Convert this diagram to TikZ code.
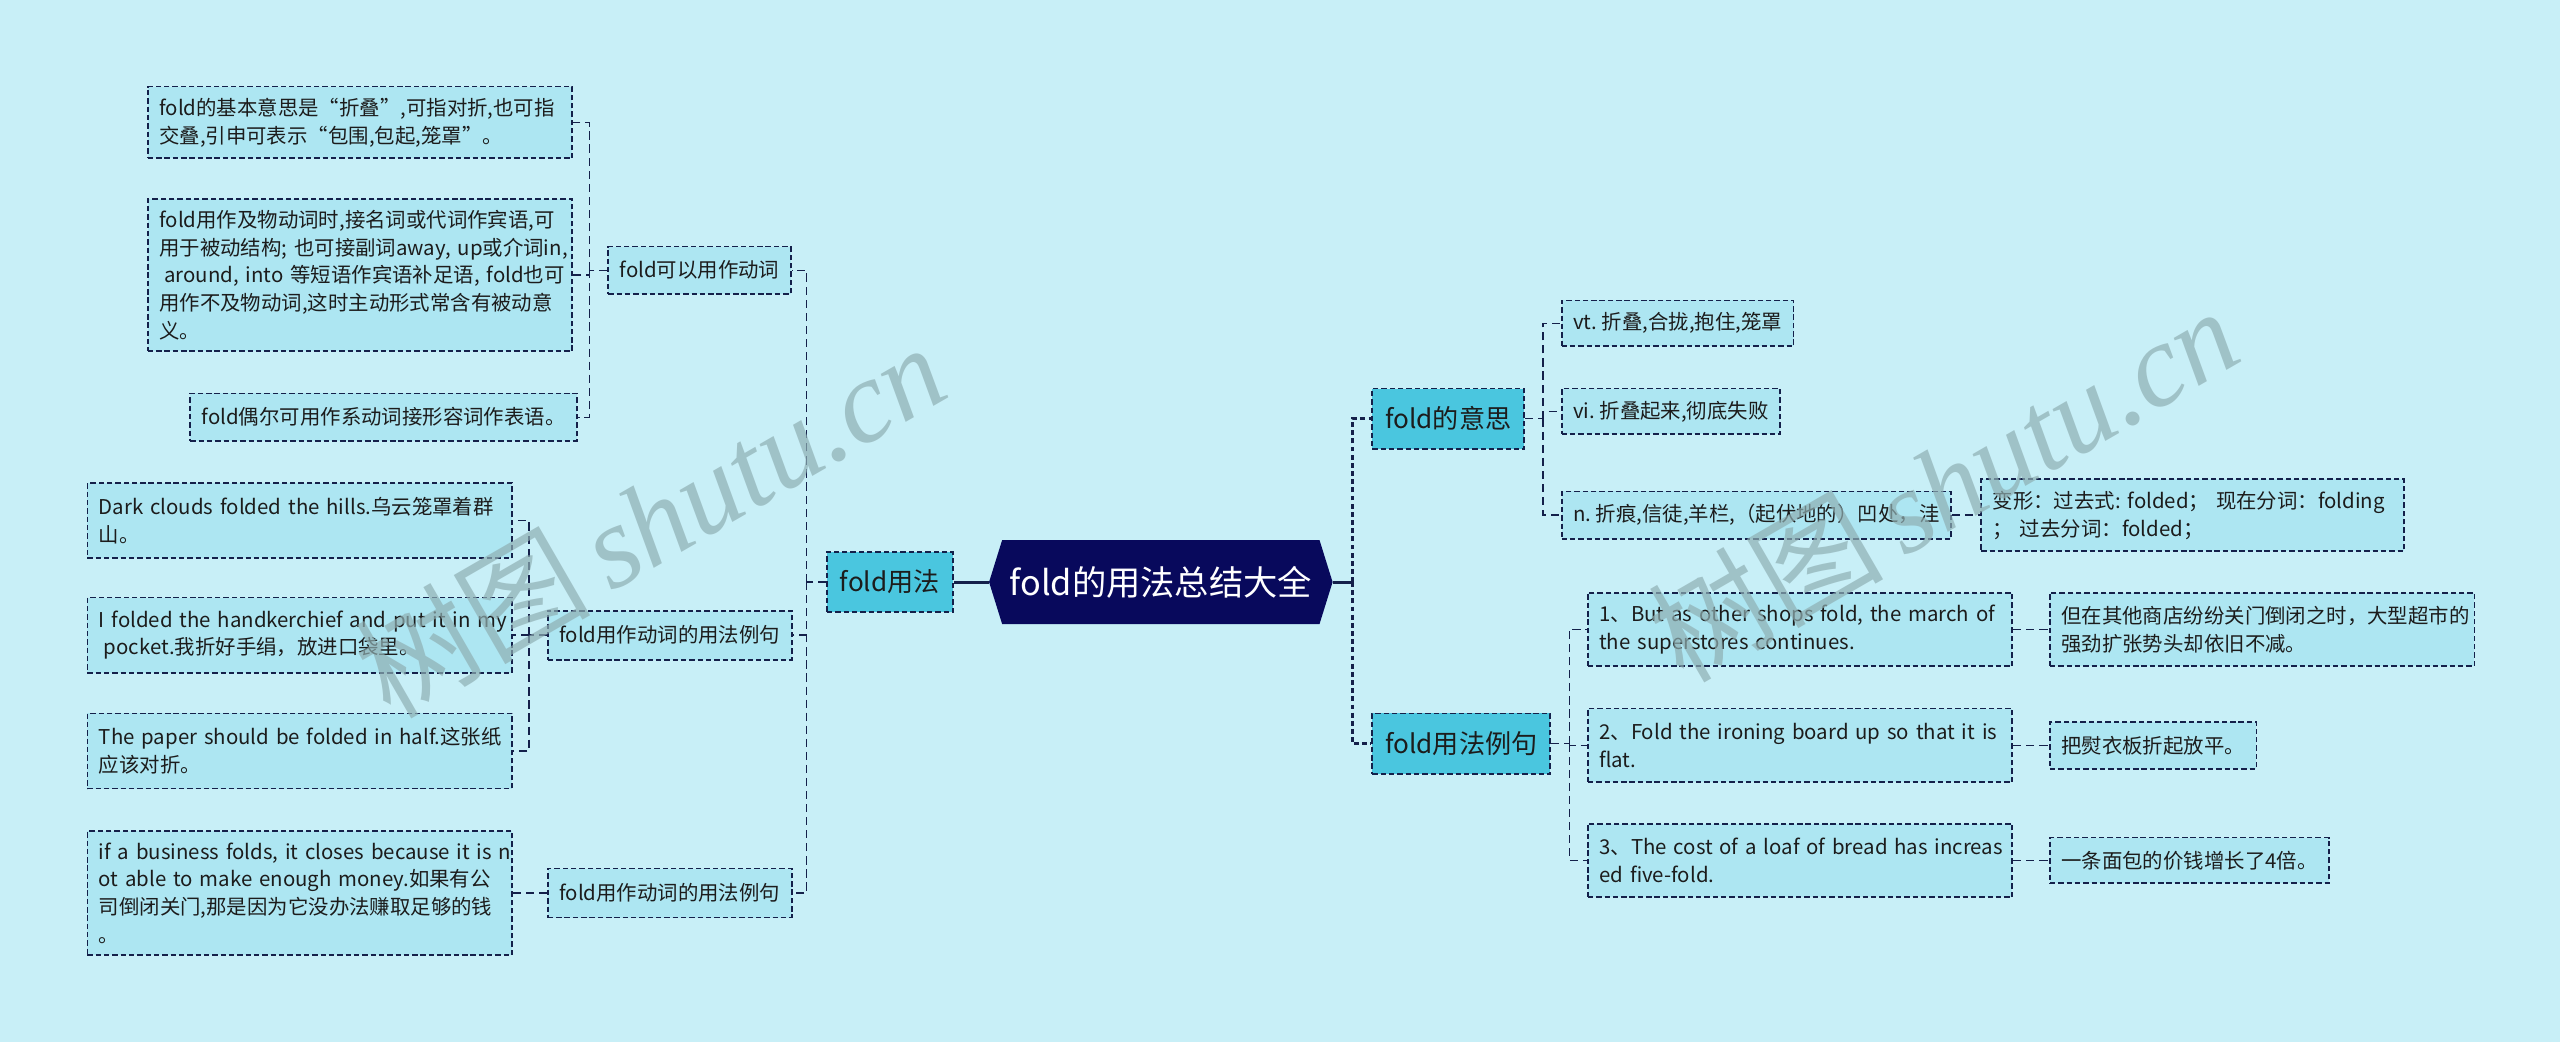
\documentclass[tikz,border=0pt]{standalone}
\usepackage{fontspec}
\setmainfont{Noto Sans CJK SC}
\newfontfamily\wmlatin{Liberation Serif}
\usetikzlibrary{backgrounds}
\definecolor{bg}{HTML}{C8EFF7}
\definecolor{leaffill}{HTML}{ADE6F2}
\definecolor{lvfill}{HTML}{4AC6DF}
\definecolor{edge}{HTML}{14204A}
\definecolor{rootfill}{HTML}{08095C}
\definecolor{txt}{HTML}{1C1C1C}
\definecolor{wm}{HTML}{8FAFB3}
\begin{document}
\begin{tikzpicture}[x=1pt,y=-1pt,
  leaf/.style={draw=edge, line width=1.1pt, dash pattern=on 3.3pt off 1.8pt,
    fill=leaffill, text=txt, font=\fontsize{12.5}{17}\selectfont,
    inner xsep=7pt, inner ysep=2pt, anchor=west,
    execute at begin node={\hyphenpenalty=10000\exhyphenpenalty=10000\lefthyphenmin=64\righthyphenmin=64\hbadness=10000\hfuzz=200pt\relax}},
  multi/.style={align=left},
  lvone/.style={leaf, fill=lvfill, font=\fontsize{16}{20}\selectfont},
  conn/.style={draw=edge, line width=0.8pt, dash pattern=on 5pt off 3pt},
  trunk/.style={draw=edge, line width=1.7pt, dash pattern=on 3pt off 2pt},
  solidlink/.style={draw=edge, line width=1.8pt},
  wmark/.style={text=wm, opacity=0.7, rotate=30, inner sep=0pt}
]
\begin{scope}[on background layer]
  \fill[bg] (0,0) rectangle (1568,638);
\end{scope}
\useasboundingbox (0,0) rectangle (1568,638);

% root
\node[font=\fontsize{21}{25}\selectfont, text=white, minimum width=194pt,
  minimum height=51pt, inner sep=0pt] (root) at (711,356.5) {fold的用法总结大全};
\begin{scope}[on background layer]
  \fill[rootfill] ([xshift=-8pt]root.west) -- (root.north west) -- (root.north east)
    -- ([xshift=8pt]root.east) -- (root.south east) -- (root.south west) -- cycle;
\end{scope}

% left side
\node[lvone, minimum width=77pt, minimum height=37pt] (L1) at (506,356.5) {fold用法};

\node[leaf, minimum width=111pt, minimum height=29pt] (P1) at (372,165.5) {fold可以用作动词};
\node[leaf, minimum width=148pt, minimum height=30pt] (P2) at (335,389) {fold用作动词的用法例句};
\node[leaf, minimum width=148pt, minimum height=30pt] (P3) at (335,547) {fold用作动词的用法例句};

\node[leaf, multi, text width=246pt, minimum height=44pt] (A) at (90,75)
  {fold的基本意思是“折叠”,可指对折,也可指\\交叠,引申可表示“包围,包起,笼罩”。};
\node[leaf, multi, text width=246pt, minimum height=93pt] (B) at (90,168.5)
  {fold用作及物动词时,接名词或代词作宾语,可\\用于被动结构;~也可接副词away,~up或介词in,\\\hspace*{0.25em}around,~into~等短语作宾语补足语,~fold也可\\用作不及物动词,这时主动形式常含有被动意\\义。};
\node[leaf, minimum width=234pt, minimum height=29pt] (C) at (116,255.5)
  {fold偶尔可用作系动词接形容词作表语。};

\node[leaf, multi, text width=246pt, minimum height=46pt] (D) at (53,319)
  {Dark~clouds~folded~the~hills.乌云笼罩着群\\山。};
\node[leaf, multi, text width=246pt, minimum height=46pt] (E) at (53,389)
  {I~folded~the~handkerchief~and~put~it~in~my\\\hspace*{0.25em}pocket.我折好手绢，放进口袋里。};
\node[leaf, multi, text width=246pt, minimum height=46pt] (F) at (53,460)
  {The~paper~should~be~folded~in~half.这张纸\\应该对折。};
\node[leaf, multi, text width=246pt, minimum height=76pt] (G) at (53,547)
  {if~a~business~folds,~it~closes~because~it~is~n\\ot~able~to~make~enough~money.如果有公\\司倒闭关门,那是因为它没办法赚取足够的钱\\。};

% right side
\node[lvone, minimum width=93pt, minimum height=37pt] (Q1) at (840,256.5) {fold的意思};
\node[lvone, minimum width=109pt, minimum height=37pt] (Q2) at (840,455.5) {fold用法例句};

\node[leaf, minimum width=138pt, minimum height=28pt] (R1) at (956,198) {vt.~折叠,合拢,抱住,笼罩};
\node[leaf, minimum width=131pt, minimum height=28pt] (R2) at (956,252) {vi.~折叠起来,彻底失败};
\node[leaf, minimum width=234pt, minimum height=29pt] (R3) at (956,315.5) {n.~折痕,信徒,羊栏,（起伏地的）凹处，洼};
\node[leaf, multi, text width=245pt, minimum height=44pt] (S) at (1213,315.5)
  {变形：过去式:~folded；~现在分词：folding\\；~过去分词：folded；};

\node[leaf, multi, text width=246pt, minimum height=45pt] (T1) at (972,385.5)
  {1、But~as~other~shops~fold,~the~march~of\\the~superstores~continues.};
\node[leaf, multi, text width=246pt, minimum height=45pt] (T2) at (972,456.5)
  {2、Fold~the~ironing~board~up~so~that~it~is\\flat.};
\node[leaf, multi, text width=246pt, minimum height=45pt] (T3) at (972,527)
  {3、The~cost~of~a~loaf~of~bread~has~increas\\ed~five-fold.};

\node[leaf, multi, text width=246pt, minimum height=45pt] (U1) at (1255,385.5)
  {但在其他商店纷纷关门倒闭之时，大型超市的\\强劲扩张势头却依旧不减。};
\node[leaf, minimum width=123pt, minimum height=29pt] (U2) at (1255,456.5) {把熨衣板折起放平。};
\node[leaf, minimum width=168pt, minimum height=28pt] (U3) at (1255,527) {一条面包的价钱增长了4倍。};

% connectors: root
\draw[solidlink] (L1.east) -- ([xshift=-8pt]root.west);
\draw[solidlink] ([xshift=8pt]root.east) -- ++(12,0) coordinate (rt);
\draw[trunk] (rt) |- (Q1.west);
\draw[trunk] (rt) |- (Q2.west);

% left connectors
\draw[conn] (L1.west) -- ++(-12,0) coordinate (lt);
\draw[conn] (lt) |- (P1.east);
\draw[conn] (lt) |- (P2.east);
\draw[conn] (lt) |- (P3.east);
\draw[conn] (P1.west) -- ++(-11,0) coordinate (p1t);
\draw[conn] (p1t) |- (A.east);
\draw[conn] (p1t) |- (B.east);
\draw[conn] (p1t) |- (C.east);
\draw[conn] (P2.west) -- ++(-11,0) coordinate (p2t);
\draw[conn] (p2t) |- (D.east);
\draw[conn] (p2t) |- (E.east);
\draw[conn] (p2t) |- (F.east);
\draw[conn] (P3.west) -- (G.east);

% right connectors
\draw[conn] (Q1.east) -- ++(11,0) coordinate (q1t);
\draw[conn] (q1t) |- (R1.west);
\draw[conn] (q1t) |- (R2.west);
\draw[conn] (q1t) |- (R3.west);
\draw[conn] (R3.east) -- (S.west);
\draw[conn] (Q2.east) -- ++(11,0) coordinate (q2t);
\draw[conn] (q2t) |- (T1.west);
\draw[conn] (q2t) |- (T2.west);
\draw[conn] (q2t) |- (T3.west);
\draw[conn] (T1.east) -- ++(11,0) |- (U1.west);
\draw[conn] (T2.east) -- ++(11,0) |- (U2.west);
\draw[conn] (T3.east) -- ++(11,0) |- (U3.west);

% watermark
\node[wmark, font=\fontsize{72}{76}\selectfont] (wm1) at (398,318) {树图\,{\wmlatin\itshape shutu.cn}};
\node[wmark, font=\fontsize{72}{76}\selectfont] (wm2) at (1190,296) {树图\,{\wmlatin\itshape shutu.cn}};
\end{tikzpicture}
\end{document}
